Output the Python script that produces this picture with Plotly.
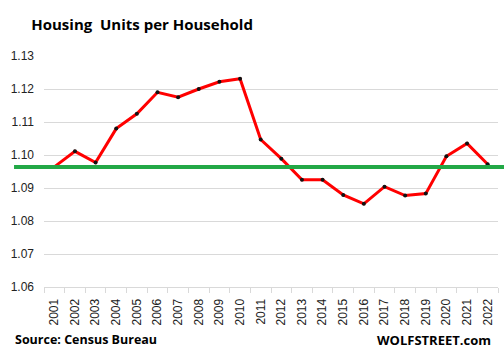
import plotly.graph_objects as go

years = [str(y) for y in range(2001, 2023)]
units_per_household = [1.0964, 1.1011, 1.0977, 1.1080, 1.1125, 1.1190, 1.1175, 1.1200,
                       1.1222, 1.1231, 1.1047, 1.0989, 1.0925, 1.0925, 1.0879, 1.0852,
                       1.0904, 1.0877, 1.0883, 1.0996, 1.1035, 1.0972]
baseline = units_per_household[0]
y_ticks = [1.06, 1.07, 1.08, 1.09, 1.10, 1.11, 1.12, 1.13]
y_tick_labels = ["1.06", "1.07", "1.08", "1.09", "1.10", "1.11", "1.12", "1.13"]

fig = go.Figure()
fig.add_trace(go.Scatter(
    x=years, y=units_per_household, mode="lines+markers",
    line=dict(color="#ff0000", width=3),
    marker=dict(color="#111111", size=4),
    cliponaxis=False, showlegend=False,
))

fig.add_shape(type="line", xref="paper", yref="y",
              x0=-0.066, x1=1.02, y0=baseline, y1=baseline,
              line=dict(color="#22a846", width=4), layer="above")

fig.update_layout(
    width=504, height=355,
    margin=dict(l=44, r=6, t=56, b=68, autoexpand=False),
    paper_bgcolor="white", plot_bgcolor="white",
    font=dict(family="Liberation Sans, Arial, sans-serif", color="#222222"),
    title=dict(text="<b>Housing  Units per Household</b>", x=0.062, xanchor="left",
               y=0.93, yanchor="middle",
               font=dict(family="Open Sans, sans-serif", size=15, color="#000000")),
    xaxis=dict(type="category", range=[-0.5, 21.5], showgrid=False, automargin=False,
               showline=True, linecolor="#d9d9d9", linewidth=1,
               ticks="outside", ticklen=5, tickcolor="#d9d9d9", tickson="boundaries",
               tickangle=-90, ticklabelstandoff=6, tickfont=dict(size=12, color="#222222")),
    yaxis=dict(range=[1.06, 1.13], tickvals=y_ticks, ticktext=y_tick_labels, automargin=False,
               showgrid=True, gridcolor="#d9d9d9", gridwidth=1,
               zeroline=False, showline=False, ticks="", ticklabelstandoff=9,
               tickfont=dict(size=12, color="#222222")),
)

fig.add_annotation(text="<b>Source: Census Bureau</b>", xref="paper", yref="paper",
                   x=-0.068, y=-0.228, xanchor="left", yanchor="middle", showarrow=False,
                   font=dict(family="Open Sans, sans-serif", size=12.5, color="#000000"))
fig.add_annotation(text="<b>WOLFSTREET.com</b>", xref="paper", yref="paper",
                   x=0.99, y=-0.228, xanchor="right", yanchor="middle", showarrow=False,
                   font=dict(family="Open Sans, sans-serif", size=13, color="#000000"))

fig.write_html("out.html", post_script="document.body.style.margin='0px';",
               config={"displayModeBar": False})
